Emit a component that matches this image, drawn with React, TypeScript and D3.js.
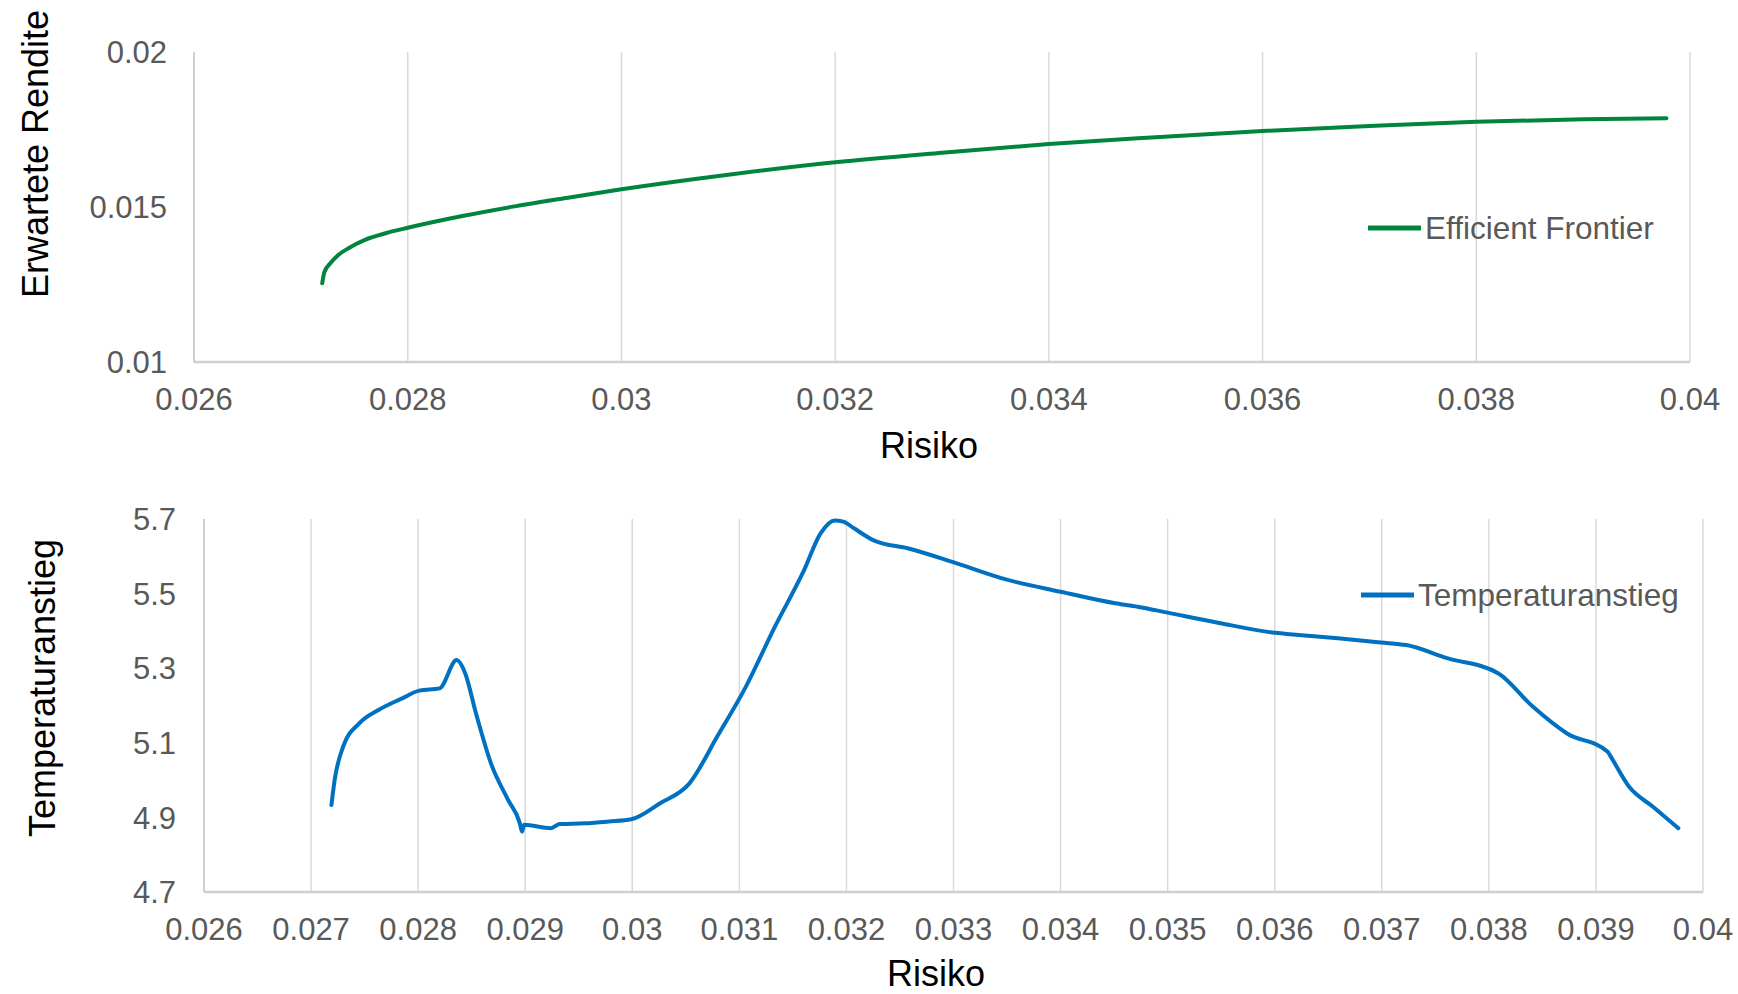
import React, { useEffect, useRef } from "react";
import * as d3 from "d3";

// efficient frontier (top chart)
const frontierRisk = [
  0.0272, 0.02722, 0.02728, 0.02735, 0.02745, 0.0276, 0.0278, 0.028, 0.0285,
  0.029, 0.0295, 0.03, 0.031, 0.032, 0.033, 0.034, 0.035, 0.036, 0.037, 0.038,
  0.039, 0.03978,
];
const frontierReturn = [
  0.01254, 0.0129, 0.0132, 0.01345, 0.01368, 0.01394, 0.01416, 0.01433,
  0.0147, 0.01502, 0.0153, 0.01557, 0.01604, 0.01644, 0.01675, 0.01703,
  0.01725, 0.01745, 0.01761, 0.01775, 0.01783, 0.01786,
];

// temperature rise (bottom chart)
const tempRisk = [
  0.02719, 0.02722, 0.0273, 0.02745, 0.02763, 0.02785, 0.02801, 0.0282,
  0.02836, 0.02844, 0.02854, 0.02868, 0.02884, 0.02895, 0.02897, 0.02899,
  0.02924, 0.02932, 0.02956, 0.02978, 0.02999, 0.03026, 0.03053, 0.0308,
  0.03106, 0.03133, 0.0316, 0.03176, 0.03189, 0.03197, 0.03207, 0.03226,
  0.03258, 0.03301, 0.03349, 0.034, 0.03451, 0.03472, 0.035, 0.03547, 0.036,
  0.03611, 0.03659, 0.03699, 0.03723, 0.03761, 0.03809, 0.03841, 0.03873,
  0.03911, 0.03913, 0.03931, 0.03953, 0.03977,
];
const tempValue = [
  4.933, 5.0, 5.09, 5.152, 5.188, 5.219, 5.24, 5.246, 5.322, 5.286, 5.179,
  5.045, 4.947, 4.884, 4.862, 4.88, 4.871, 4.882, 4.884, 4.889, 4.895, 4.938,
  4.99, 5.12, 5.25, 5.41, 5.56, 5.662, 5.696, 5.693, 5.675, 5.642, 5.621,
  5.583, 5.538, 5.505, 5.474, 5.465, 5.449, 5.422, 5.395, 5.392, 5.38, 5.369,
  5.362, 5.327, 5.286, 5.197, 5.125, 5.076, 5.067, 4.982, 4.929, 4.871,
];

const topXTicks = [0.026, 0.028, 0.03, 0.032, 0.034, 0.036, 0.038, 0.04];
const topYTicks = [0.01, 0.015, 0.02];
const bottomXTicks = [
  0.026, 0.027, 0.028, 0.029, 0.03, 0.031, 0.032, 0.033, 0.034, 0.035, 0.036,
  0.037, 0.038, 0.039, 0.04,
];
const bottomYTicks = [4.7, 4.9, 5.1, 5.3, 5.5, 5.7];

const FONT = "'Liberation Sans', Arial, sans-serif";

const App = () => {
  const svgRef = useRef<SVGSVGElement | null>(null);

  useEffect(() => {
    const svg = d3.select(svgRef.current);
    svg.selectAll("*").remove();

    const drawPanel = (opts: any) => {
      const { xs, ys, xTicks, yTicks, left, right, top, bottom, color } = opts;
      const x = d3.scaleLinear().domain([0.026, 0.04]).range([left, right]);
      const y = d3
        .scaleLinear()
        .domain([yTicks[0], yTicks[yTicks.length - 1]])
        .range([bottom, top]);
      const g = svg.append("g");

      // vertical gridlines
      g.selectAll("line.grid")
        .data(xTicks.slice(1))
        .join("line")
        .attr("x1", (d: number) => x(d))
        .attr("x2", (d: number) => x(d))
        .attr("y1", top)
        .attr("y2", bottom)
        .attr("stroke", "#d9d9d9")
        .attr("stroke-width", 1.5);

      // axes lines
      g.append("line")
        .attr("x1", left)
        .attr("x2", left)
        .attr("y1", top)
        .attr("y2", bottom)
        .attr("stroke", "#cfcfcf")
        .attr("stroke-width", 2);
      g.append("line")
        .attr("x1", left)
        .attr("x2", right)
        .attr("y1", bottom)
        .attr("y2", bottom)
        .attr("stroke", "#cfcfcf")
        .attr("stroke-width", 2.5);

      // x tick labels
      g.selectAll("text.xt")
        .data(xTicks)
        .join("text")
        .attr("x", (d: number) => x(d))
        .attr("y", bottom + opts.xLabelDy)
        .attr("text-anchor", "middle")
        .attr("font-family", FONT)
        .attr("font-size", 31)
        .attr("fill", "#595959")
        .text((d: number) => String(+d.toFixed(3)));

      // y tick labels
      g.selectAll("text.yt")
        .data(yTicks)
        .join("text")
        .attr("x", left - opts.yLabelGap)
        .attr("y", (d: number) => y(d))
        .attr("dy", "0.36em")
        .attr("text-anchor", "end")
        .attr("font-family", FONT)
        .attr("font-size", 31)
        .attr("fill", "#595959")
        .text((d: number) => String(+d.toFixed(3)));

      // the series
      const pts = xs.map((v: number, i: number) => [v, ys[i]]);
      const line = d3
        .line<number[]>()
        .x((d) => x(d[0]))
        .y((d) => y(d[1]))
        .curve(d3.curveMonotoneX);
      g.append("path")
        .attr("d", line(pts))
        .attr("fill", "none")
        .attr("stroke", color)
        .attr("stroke-width", 4)
        .attr("stroke-linejoin", "round")
        .attr("stroke-linecap", "round");

      // axis titles
      g.append("text")
        .attr("x", opts.xTitle[0])
        .attr("y", opts.xTitle[1])
        .attr("text-anchor", "middle")
        .attr("font-family", FONT)
        .attr("font-size", 36)
        .attr("fill", "#000")
        .text("Risiko");
      g.append("text")
        .attr("transform", `translate(${opts.yTitle[0]},${opts.yTitle[1]}) rotate(-90)`)
        .attr("text-anchor", "middle")
        .attr("font-family", FONT)
        .attr("font-size", 36)
        .attr("fill", "#000")
        .text(opts.yLabel);

      // legend
      const [lx, ly] = opts.legend;
      g.append("line")
        .attr("x1", lx)
        .attr("x2", lx + 53)
        .attr("y1", ly)
        .attr("y2", ly)
        .attr("stroke", color)
        .attr("stroke-width", 5);
      g.append("text")
        .attr("x", lx + 57)
        .attr("y", ly)
        .attr("dy", "0.36em")
        .attr("font-family", FONT)
        .attr("font-size", 31.5)
        .attr("fill", "#595959")
        .text(opts.seriesName);
    };

    drawPanel({
      xs: frontierRisk,
      ys: frontierReturn,
      xTicks: topXTicks,
      yTicks: topYTicks,
      left: 194,
      right: 1690,
      top: 52,
      bottom: 362,
      color: "#00853e",
      xLabelDy: 48,
      yLabelGap: 27,
      xTitle: [929, 458],
      yTitle: [48, 154],
      yLabel: "Erwartete Rendite",
      legend: [1368, 228],
      seriesName: "Efficient Frontier",
    });

    drawPanel({
      xs: tempRisk,
      ys: tempValue,
      xTicks: bottomXTicks,
      yTicks: bottomYTicks,
      left: 204,
      right: 1703,
      top: 519,
      bottom: 892,
      color: "#0070c0",
      xLabelDy: 48,
      yLabelGap: 28,
      xTitle: [936, 986],
      yTitle: [55, 688],
      yLabel: "Temperaturanstieg",
      legend: [1361, 595],
      seriesName: "Temperaturanstieg",
    });
  }, []);

  return (
    <svg
      ref={svgRef}
      width={1738}
      height={994}
      style={{ position: "absolute", left: 0, top: 0, background: "#fff" }}
    ></svg>
  );
};

export default App;
